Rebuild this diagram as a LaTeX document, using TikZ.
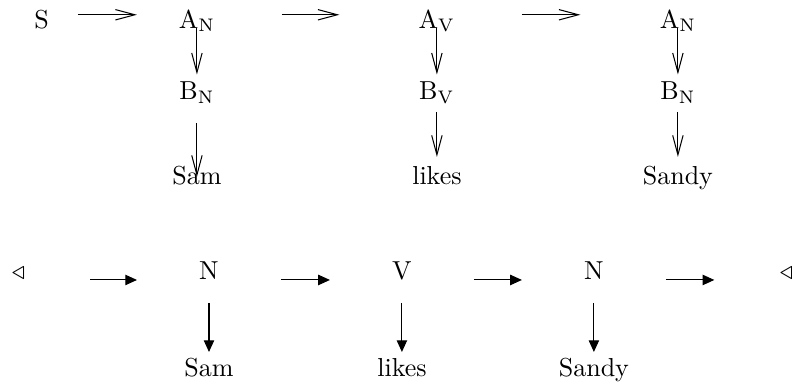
\documentclass[tikz,border=0pt]{standalone}
\usepackage{amsmath,amssymb}
\usepackage{tikz}
\usetikzlibrary{arrows.meta}
\tikzset{
  word/.style={inner sep=0pt, anchor=base},
  toparrow/.style={-{Straight Barb[length=7.5pt,width=4pt]}},
  botarrow/.style={-{Triangle[length=4.5pt,width=4pt]}},
}
\newcommand{\sub}[2]{#1$_{\mathrm{#2}}$}

\begin{document}
\begin{tikzpicture}
  \useasboundingbox (0,0) rectangle (10.71,-5.205);

  % Upper derivation
  \node[word] (s) at (0.561,-0.379) {S};
  \node[word] (an1) at (2.663,-0.379) {\sub{A}{N}};
  \node[word] (av) at (5.908,-0.379) {\sub{A}{V}};
  \node[word] (an2) at (9.167,-0.379) {\sub{A}{N}};

  \node[word] (bn1) at (2.663,-1.352) {\sub{B}{N}};
  \node[word] (bv) at (5.908,-1.352) {\sub{B}{V}};
  \node[word] (bn2) at (9.167,-1.352) {\sub{B}{N}};

  \node[word] (sam1) at (2.663,-2.501) {Sam};
  \node[word] (likes1) at (5.908,-2.501) {likes};
  \node[word] (sandy1) at (9.167,-2.501) {Sandy};

  \draw[toparrow, shorten <=14pt, shorten >=23.1pt] ([yshift=5.1pt]s.base) -- ([yshift=5.1pt]an1.base);
  \draw[toparrow, shorten <=32.7pt, shorten >=37.5pt] ([yshift=5.1pt]an1.base) -- ([yshift=5.1pt]av.base);
  \draw[toparrow, shorten <=32.7pt, shorten >=37.5pt] ([yshift=5.1pt]av.base) -- ([yshift=5.1pt]an2.base);

  \draw[toparrow, shorten >=9.8pt] (an1.base) -- (bn1.base);
  \draw[toparrow, shorten >=9.8pt] (av.base) -- (bv.base);
  \draw[toparrow, shorten >=9.8pt] (an2.base) -- (bn2.base);

  \draw[toparrow, shorten <=8.8pt, shorten >=3.1pt] (bn1.base) -- (sam1.base);
  \draw[toparrow, shorten <=4.6pt, shorten >=10.8pt] (bv.base) -- (likes1.base);
  \draw[toparrow, shorten <=4.6pt, shorten >=10.8pt] (bn2.base) -- (sandy1.base);

  % Lower chain
  \node[word] (lt) at (0.250,-3.786) {$\triangleleft$};
  \node[word] (n1) at (2.826,-3.786) {N};
  \node[word] (v) at (5.435,-3.786) {V};
  \node[word] (n2) at (8.031,-3.786) {N};
  \node[word] (rt) at (10.633,-3.786) {$\triangleleft$};

  \node[word] (sam2) at (2.826,-5.097) {Sam};
  \node[word] (likes2) at (5.435,-5.097) {likes};
  \node[word] (sandy2) at (8.031,-5.097) {Sandy};

  \draw[botarrow, shorten <=27.7pt, shorten >=27.7pt] (lt.base) -- (n1.base);
  \draw[botarrow, shorten <=27.7pt, shorten >=27.7pt] (n1.base) -- (v.base);
  \draw[botarrow, shorten <=27.7pt, shorten >=27.7pt] (v.base) -- (n2.base);
  \draw[botarrow, shorten <=27.7pt, shorten >=27.7pt] (n2.base) -- (rt.base);

  \draw[botarrow, shorten <=8.8pt, shorten >=9.6pt] (n1.base) -- (sam2.base);
  \draw[botarrow, shorten <=8.8pt, shorten >=9.6pt] (v.base) -- (likes2.base);
  \draw[botarrow, shorten <=8.8pt, shorten >=9.6pt] (n2.base) -- (sandy2.base);
\end{tikzpicture}
\end{document}
